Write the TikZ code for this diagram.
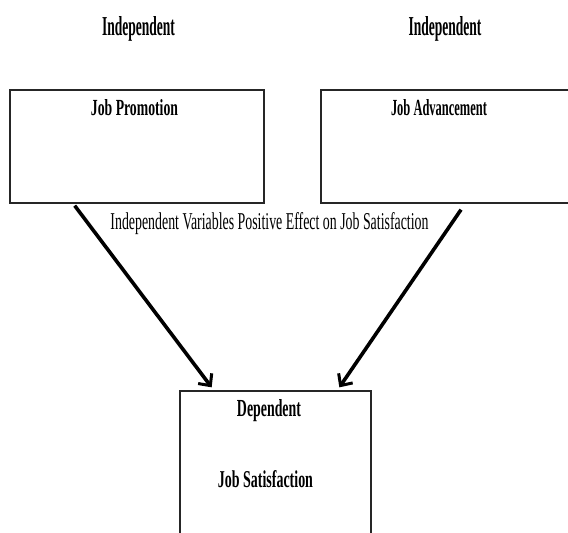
\documentclass[tikz,border=0pt]{standalone}
\usepackage{fontspec}
\setmainfont{Liberation Serif}
\usepackage{graphicx}
\usetikzlibrary{arrows.meta,calc}
\tikzset{
  box/.style={draw=black!85,line width=1.3pt,rectangle,inner sep=0pt},
  lbl/.style={anchor=base,inner sep=0pt,text=black},
  arr/.style={line width=3.6pt,-{Straight Barb[length=9pt,width=17pt,line width=3pt]}},
}
\newcommand{\fitb}[3]{\resizebox{#1pt}{#2pt}{\textbf{#3}}}
\newcommand{\fitr}[3]{\resizebox{#1pt}{#2pt}{#3}}
\begin{document}
\begin{tikzpicture}[x=1pt,y=-1pt]
\useasboundingbox (0,0) rectangle (568,533);
\clip (0,0) rectangle (568,533);
\fill[white] (0,0) rectangle (568,533);
% boxes
\node[box,minimum width=254pt,minimum height=113pt] (lbox) at (137,146.5) {};
\node[box,minimum width=254pt,minimum height=113pt] (rbox) at (448,146.5) {};
\node[box,minimum width=191pt,minimum height=170pt] (dbox) at (275.5,476) {};
% labels
\node[lbl] (ind1) at (138.5,35) {\fitb{73}{19}{Independent}};
\node[lbl] (ind2) at (445,35) {\fitb{73}{19}{Independent}};
\node[lbl] (jp) at (134.5,115) {\fitb{87}{16}{Job Promotion}};
\node[lbl] (ja) at (439,115) {\fitb{96}{16}{Job Advancement}};
\node[lbl] (mid) at (269.5,229) {\fitr{318}{17}{Independent Variables Positive Effect on Job Satisfaction}};
\node[lbl] (dep) at (269,416) {\fitb{64}{17}{Dependent}};
\node[lbl] (js) at (265.5,487) {\fitb{95}{17}{Job Satisfaction}};
% arrows
\coordinate (ls) at ($(lbox.south west)!0.256!(lbox.south east)+(0,2)$);
\coordinate (le) at ($(dbox.north west)!0.168!(dbox.north east)+(0,-3)$);
\coordinate (rs) at ($(rbox.south west)!0.551!(rbox.south east)+(0,6)$);
\coordinate (re) at ($(dbox.north west)!0.832!(dbox.north east)+(0,-3)$);
\draw[arr] (ls) -- (le);
\draw[arr] (rs) -- (re);
\end{tikzpicture}
\end{document}
